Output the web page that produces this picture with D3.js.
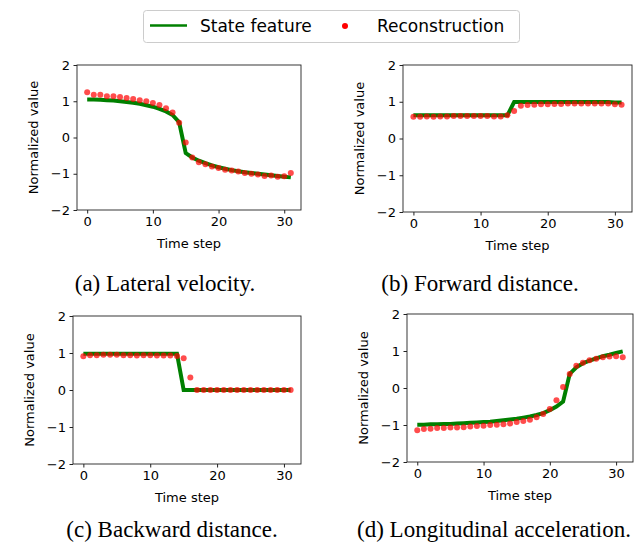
<html lang="en">
<head>
<meta charset="UTF-8">
<title>State feature reconstruction</title>
<script src="https://d3js.org/d3.v7.min.js"></script>
<style>
    body { margin: 0; background: #fff; }
    text { font-family: "DejaVu Sans", sans-serif; fill: #000; }
    .caption { font-family: "Liberation Serif", "Times New Roman", serif; font-size: 23px; }
</style>
</head>
<body>
<svg width="634" height="546"></svg>
<script>
// x categories and ticks
var timeSteps = [0,1,2,3,4,5,6,7,8,9,10,11,12,13,14,15,16,17,18,19,20,21,22,23,24,25,26,27,28,29,30,31];
var xTicks = [0, 10, 20, 30];
var yTicks = [-2, -1, 0, 1, 2];

// (a) lateral velocity
var lateralFeature = [1.05,1.05,1.04,1.03,1.02,1.0,0.98,0.96,0.93,0.89,0.85,0.79,0.72,0.62,0.42,-0.43,-0.55,-0.64,-0.71,-0.77,-0.82,-0.86,-0.9,-0.93,-0.96,-0.98,-1.0,-1.02,-1.04,-1.06,-1.08,-1.1];
var lateralRecon = [1.25,1.18,1.18,1.14,1.14,1.12,1.09,1.06,1.03,1.0,0.95,0.9,0.81,0.69,0.41,-0.14,-0.55,-0.68,-0.74,-0.8,-0.84,-0.89,-0.91,-0.94,-0.98,-1.0,-1.02,-1.06,-1.05,-1.08,-1.07,-0.98];

// (b) forward distance
var forwardFeature = [0.63,0.63,0.63,0.63,0.63,0.63,0.63,0.63,0.63,0.63,0.63,0.63,0.63,0.63,0.63,0.99,0.99,0.99,0.99,0.99,0.99,0.99,0.99,0.99,0.99,0.99,0.99,0.99,0.99,0.99,0.98,0.98];
var forwardRecon = [0.59,0.59,0.6,0.59,0.6,0.6,0.61,0.61,0.61,0.61,0.61,0.61,0.6,0.6,0.63,0.75,0.89,0.91,0.92,0.93,0.93,0.94,0.94,0.95,0.95,0.95,0.95,0.95,0.95,0.95,0.93,0.92];

// (c) backward distance
var backwardFeature = [0.98,0.98,0.98,0.98,0.98,0.98,0.98,0.98,0.98,0.98,0.98,0.98,0.98,0.98,0.98,0,0,0,0,0,0,0,0,0,0,0,0,0,0,0,0,0];
var backwardRecon = [0.91,0.94,0.94,0.95,0.95,0.95,0.94,0.94,0.93,0.94,0.94,0.93,0.93,0.93,0.92,0.86,0.34,0.0,0.0,0.0,0.0,0.0,0.0,0.0,0.0,0.0,0.0,0.0,0.0,0.0,0.0,0.0];

// (d) longitudinal acceleration
var longFeature = [-0.99,-0.99,-0.98,-0.98,-0.97,-0.97,-0.96,-0.95,-0.94,-0.93,-0.92,-0.91,-0.89,-0.87,-0.85,-0.83,-0.8,-0.77,-0.73,-0.68,-0.6,-0.5,-0.37,0.38,0.56,0.67,0.74,0.8,0.86,0.9,0.95,0.99];
var longRecon = [-1.14,-1.11,-1.1,-1.08,-1.08,-1.07,-1.07,-1.06,-1.04,-1.03,-1.02,-1.0,-0.99,-0.98,-0.96,-0.92,-0.89,-0.86,-0.79,-0.7,-0.57,-0.33,0.03,0.38,0.6,0.68,0.75,0.79,0.83,0.85,0.86,0.83];

var captions = ["(a) Lateral velocity.", "(b) Forward distance.", "(c) Backward distance.", "(d) Longitudinal acceleration."];

var svg = d3.select("svg");

var panels = [
    { left: 77, right: 301, top: 65, bottom: 210, feature: lateralFeature, recon: lateralRecon, capX: 165, capY: 291 },
    { left: 403, right: 632, top: 65, bottom: 212, feature: forwardFeature, recon: forwardRecon, capX: 480, capY: 291 },
    { left: 73, right: 301, top: 316, bottom: 464, feature: backwardFeature, recon: backwardRecon, capX: 172, capY: 537 },
    { left: 407, right: 633, top: 314, bottom: 462, feature: longFeature, recon: longRecon, capX: 494, capY: 537 }
];

function fmt(d) { return d < 0 ? "\u2212" + Math.abs(d) : "" + d; }

panels.forEach(function (p, i) {
    var x = d3.scaleLinear().domain([-1.55, 32.55]).range([p.left, p.right]);
    var y = d3.scaleLinear().domain([-2, 2]).range([p.bottom, p.top]);
    var g = svg.append("g");

    // frame
    g.append("rect")
        .attr("x", p.left).attr("y", p.top)
        .attr("width", p.right - p.left).attr("height", p.bottom - p.top)
        .attr("fill", "none").attr("stroke", "#222").attr("stroke-width", 0.9);

    var xa = g.append("g")
        .attr("transform", "translate(0," + p.bottom + ")")
        .call(d3.axisBottom(x).tickValues(xTicks).tickSize(3.5).tickPadding(3.5));
    var ya = g.append("g")
        .attr("transform", "translate(" + p.left + ",0)")
        .call(d3.axisLeft(y).tickValues(yTicks).tickFormat(fmt).tickSize(3.5).tickPadding(3.5));
    [xa, ya].forEach(function (a) {
        a.select(".domain").remove();
        a.selectAll("text").style("font-size", "13px").style("font-family", "DejaVu Sans");
        a.selectAll("line").attr("stroke", "#222");
    });

    g.append("text")
        .attr("x", (p.left + p.right) / 2).attr("y", p.bottom + 38)
        .attr("text-anchor", "middle").style("font-size", "13px")
        .text("Time step");
    g.append("text")
        .attr("transform", "translate(" + (p.left - 39) + "," + ((p.top + p.bottom) / 2) + ") rotate(-90)")
        .attr("text-anchor", "middle").style("font-size", "13px")
        .text("Normalized value");

    var line = d3.line()
        .x(function (d, j) { return x(timeSteps[j]); })
        .y(function (d) { return y(d); });
    g.append("path")
        .datum(p.feature)
        .attr("d", line)
        .attr("fill", "none").attr("stroke", "#008000").attr("stroke-width", 4);

    g.selectAll(".dot")
        .data(p.recon)
        .enter().append("circle")
        .attr("class", "dot")
        .attr("cx", function (d, j) { return x(timeSteps[j]); })
        .attr("cy", function (d) { return y(d); })
        .attr("r", 3)
        .attr("fill", "red").attr("fill-opacity", 0.7);

    svg.append("text")
        .attr("class", "caption")
        .attr("x", p.capX).attr("y", p.capY)
        .attr("text-anchor", "middle")
        .text(captions[i]);
});

// legend
var lg = svg.append("g");
lg.append("rect")
    .attr("x", 143.5).attr("y", 10.5).attr("width", 376).attr("height", 32).attr("rx", 3)
    .attr("fill", "#fff").attr("stroke", "#ccc");
lg.append("line")
    .attr("x1", 150).attr("x2", 187).attr("y1", 25.5).attr("y2", 25.5)
    .attr("stroke", "#008000").attr("stroke-width", 2.5);
lg.append("text").attr("x", 200).attr("y", 31.5).style("font-size", "17px").text("State feature");
lg.append("circle").attr("cx", 345).attr("cy", 26).attr("r", 3).attr("fill", "red");
lg.append("text").attr("x", 377).attr("y", 31.5).style("font-size", "17px").text("Reconstruction");
</script>
</body>
</html>
